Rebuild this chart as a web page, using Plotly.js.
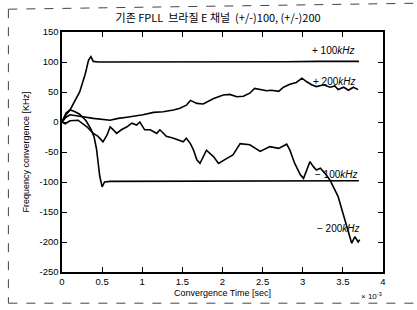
<!DOCTYPE html>
<html>
<head>
<meta charset="utf-8">
<script src="https://cdn.plot.ly/plotly-3.0.1.min.js"></script>
<style>html,body{margin:0;padding:0;background:#fff;}#chart{width:417px;height:310px;}</style>
</head>
<body>
<div id="chart"></div>
<script>
// Time in units of 1e-3 s
const timePlus100 = [0, 0.05, 0.10, 0.16, 0.22, 0.29, 0.33, 0.36, 0.39, 0.45, 0.8, 1.2, 1.6, 2.0, 2.4, 2.8, 3.2, 3.5, 3.7];
const freqPlus100 = [0, 12, 20, 34, 50, 80, 103, 109, 101, 100, 100, 99.5, 100, 100, 100, 100.5, 101, 101, 101];

const timePlus200 = [0, 0.05, 0.10, 0.22, 0.39, 0.60, 0.70, 0.81, 0.93, 1.01, 1.14, 1.26, 1.39, 1.47, 1.55, 1.60, 1.68, 1.76, 1.89, 2.01, 2.09, 2.18, 2.26, 2.34, 2.40, 2.47, 2.55, 2.61, 2.70, 2.76, 2.84, 2.92, 2.99, 3.05, 3.11, 3.17, 3.26, 3.34, 3.40, 3.44, 3.51, 3.57, 3.63, 3.69];
const freqPlus200 = [0, 8, 12, 9, 6, 3, 6, 8, 10, 12, 16, 17, 20, 23, 28, 36, 31, 30, 39, 45, 46, 42, 43, 48, 56, 54, 52, 53, 51, 58, 63, 66, 73, 67, 62, 59, 62, 58, 60, 54, 58, 53, 58, 54];

const timeMinus100 = [0, 0.05, 0.10, 0.15, 0.22, 0.30, 0.36, 0.40, 0.43, 0.45, 0.47, 0.50, 0.53, 0.6, 1.0, 1.5, 2.0, 2.5, 3.0, 3.5, 3.7];
const freqMinus100 = [0, 15, 20, 18, 13, 2, -12, -25, -45, -70, -90, -108, -100, -99, -99, -99, -99, -99, -98, -98, -98];

const timeMinus200 = [0, 0.04, 0.10, 0.20, 0.31, 0.39, 0.45, 0.51, 0.56, 0.60, 0.64, 0.68, 0.74, 0.81, 0.87, 0.93, 0.97, 1.03, 1.10, 1.18, 1.22, 1.30, 1.39, 1.45, 1.51, 1.55, 1.60, 1.64, 1.68, 1.72, 1.80, 1.89, 1.95, 2.05, 2.13, 2.22, 2.34, 2.47, 2.59, 2.70, 2.80, 2.84, 2.90, 2.97, 3.01, 3.05, 3.09, 3.13, 3.17, 3.22, 3.28, 3.34, 3.40, 3.44, 3.49, 3.53, 3.57, 3.61, 3.65, 3.69, 3.71];
const freqMinus200 = [0, -3, 2, 3, -8, -19, -24, -33, -22, -8, -13, -19, -13, -8, -2, -5, 0, -13, -13, -19, -13, -24, -27, -30, -33, -27, -36, -47, -63, -69, -47, -58, -69, -61, -55, -36, -38, -49, -41, -44, -37, -47, -69, -88, -94, -80, -66, -74, -80, -77, -86, -97, -113, -124, -147, -166, -186, -202, -191, -200, -196];

const xTickVals = [0, 0.5, 1, 1.5, 2, 2.5, 3, 3.5, 4];
const xTickText = ['0', '0.5', '1', '1.5', '2', '2.5', '3', '3.5', '4'];
const yTickVals = [150, 100, 50, 0, -50, -100, -150, -200, -250];
const yTickText = ['150', '100', '50', '0', '-50', '-100', '-150', '-200', '-250'];

const lineStyle = {color: '#000', width: 1.6};
const traces = [
  {x: timePlus100, y: freqPlus100, mode: 'lines', line: lineStyle},
  {x: timePlus200, y: freqPlus200, mode: 'lines', line: lineStyle},
  {x: timeMinus100, y: freqMinus100, mode: 'lines', line: lineStyle},
  {x: timeMinus200, y: freqMinus200, mode: 'lines', line: lineStyle}
];

const fontSans = '"Liberation Sans", Arial, sans-serif';
const lblFont = {family: fontSans, size: 10, color: '#000'};

const layout = {
  width: 417, height: 310,
  margin: {l: 62, r: 34, t: 32, b: 38},
  paper_bgcolor: '#fff', plot_bgcolor: '#fff',
  showlegend: false,
  title: {text: '기존 FPLL  브라질 E 채널  (+/-)100, (+/-)200', x: 0.523, xanchor: 'center', y: 0.94, yanchor: 'middle',
          font: {family: '"Noto Sans CJK KR", ' + fontSans, size: 11, color: '#000'}},
  xaxis: {range: [0, 4], tickvals: xTickVals, ticktext: xTickText, ticks: 'inside', ticklen: 5, tickwidth: 1, tickcolor: '#000',
          showline: true, linecolor: '#000', linewidth: 1.6, mirror: 'ticks', showgrid: false, zeroline: false,
          tickfont: {family: fontSans, size: 9.5, color: '#000'},
          title: {text: 'Convergence Time [sec]', standoff: 3, font: {family: fontSans, size: 9, color: '#000'}}},
  yaxis: {range: [-250, 150], tickvals: yTickVals, ticktext: yTickText, ticks: 'inside', ticklen: 5, tickwidth: 1, tickcolor: '#000',
          showline: true, linecolor: '#000', linewidth: 1.6, mirror: 'ticks', showgrid: false, zeroline: false,
          tickfont: {family: fontSans, size: 9.5, color: '#000'},
          title: {text: 'Frequency convergence [KHz]', standoff: 8, font: {family: fontSans, size: 9, color: '#000'}}},
  annotations: [
    {x: 3.68, y: 119, xanchor: 'right', yanchor: 'middle', text: '+ 100<i>kHz</i>', showarrow: false, font: lblFont},
    {x: 3.69, y: 67, xanchor: 'right', yanchor: 'middle', text: '+ 200<i>kHz</i>', showarrow: false, font: lblFont},
    {x: 3.71, y: -88, xanchor: 'right', yanchor: 'middle', text: '− 100<i>kHz</i>', showarrow: false, font: lblFont},
    {x: 3.74, y: -178, xanchor: 'right', yanchor: 'middle', text: '− 200<i>kHz</i>', showarrow: false, font: lblFont},
    {xref: 'paper', yref: 'paper', x: 0.965, y: -0.098, xanchor: 'center', yanchor: 'middle', text: '× 10<sup>-3</sup>', showarrow: false,
     font: {family: fontSans, size: 8, color: '#000'}}
  ],
  shapes: [
    {type: 'line', xref: 'paper', yref: 'paper', x0: -0.167, x1: -0.167, y0: 1.095, y1: -0.13, line: {color: '#444', width: 1, dash: 'dash'}},
    {type: 'line', xref: 'paper', yref: 'paper', x0: -0.167, x1: 1.11, y0: 1.095, y1: 1.12, line: {color: '#444', width: 1, dash: 'dash'}},
    {type: 'line', xref: 'paper', yref: 'paper', x0: -0.167, x1: 1.11, y0: -0.13, y1: -0.13, line: {color: '#444', width: 1, dash: 'dash'}}
  ]
};

Plotly.newPlot('chart', traces, layout, {displayModeBar: false, staticPlot: true});
</script>
</body>
</html>
